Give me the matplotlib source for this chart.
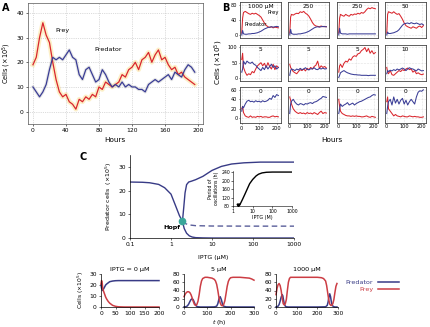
import numpy as np
import matplotlib
matplotlib.use("Agg")
import matplotlib.pyplot as plt
from matplotlib.lines import Line2D

plt.rcParams['font.family'] = ['DejaVu Sans']

RED = '#d9262d'
BLUE = '#3a3d96'
RED2 = '#cc3d44'
BLUE2 = '#383b86'

# ---- Panel A: time series (hours)
hours_a = list(range(0, 200, 4))
prey_a = [19, 22, 30, 36, 31, 28, 20, 13, 8, 6,
          7, 4, 3, 1, 5, 4, 6, 5, 7, 6,
          10, 9, 12, 11, 10, 11, 12, 15, 14, 17,
          18, 20, 17, 21, 22, 24, 20, 23, 25, 21,
          22, 19, 17, 18, 15, 16, 14, 13, 12, 11]
pred_a = [10, 8, 6, 8, 11, 17, 22, 21, 22, 21,
          23, 25, 22, 21, 15, 13, 17, 18, 15, 12,
          13, 17, 15, 12, 10, 11, 10, 12, 10, 11,
          10, 10, 9, 9, 8, 11, 12, 13, 12, 13,
          14, 15, 13, 16, 15, 14, 17, 19, 18, 16]

# ---- Panel B: 12 chemostat runs
hours_b = [0, 5, 10, 20, 30, 40, 50, 60, 70, 80, 90, 100, 110, 120,
           130, 140, 150, 160, 170, 180, 190, 200, 210]
titles_b = ['1000 \u03bcM', '250', '250', '50',
            '5', '5', '5', '10',
            '0', '0', '0', '0']
prey_b = [
    [5, 45, 60, 63, 60, 57, 55, 58, 56, 58, 55, 52, 48, 40, 32, 26, 22, 20, 22, 19, 21, 20, 19],
    [5, 48, 55, 53, 56, 58, 57, 62, 60, 63, 58, 55, 50, 42, 33, 27, 24, 23, 22, 24, 22, 23, 22],
    [5, 45, 55, 52, 50, 55, 52, 50, 55, 53, 56, 55, 58, 56, 60, 58, 62, 68, 72, 70, 73, 71, 70],
    [5, 55, 62, 60, 58, 62, 58, 55, 57, 50, 42, 32, 25, 22, 20, 18, 22, 20, 18, 22, 24, 20, 25],
    [60, 80, 35, 20, 10, 15, 12, 22, 18, 30, 40, 45, 50, 40, 48, 35, 50, 38, 30, 45, 28, 40, 35],
    [45, 35, 30, 22, 18, 15, 22, 28, 25, 30, 24, 32, 28, 35, 30, 38, 42, 55, 32, 40, 35, 38, 33],
    [20, 40, 45, 35, 48, 55, 52, 62, 58, 68, 72, 70, 78, 80, 88, 92, 98, 85, 95, 80, 88, 78, 82],
    [35, 20, 15, 25, 12, 10, 15, 20, 25, 22, 28, 25, 30, 33, 28, 30, 20, 25, 15, 18, 14, 12, 14],
    [20, 25, 12, 5, 3, 2, 5, 2, 3, 2, 4, 3, 4, 2, 3, 3, 2, 2, 4, 5, 3, 4, 3],
    [45, 38, 30, 20, 15, 12, 10, 12, 10, 11, 9, 12, 10, 11, 9, 12, 10, 8, 12, 15, 10, 12, 11],
    [40, 25, 15, 10, 8, 6, 5, 5, 4, 5, 4, 5, 4, 4, 3, 3, 4, 5, 3, 2, 4, 3, 2],
    [35, 45, 20, 15, 10, 5, 8, 5, 4, 3, 5, 4, 3, 3, 5, 4, 3, 4, 3, 3, 2, 2, 3],
]
pred_b = [
    [0, 12, 3, 2, 2, 3, 3, 4, 4, 5, 6, 8, 10, 13, 16, 18, 20, 21, 22, 21, 22, 23, 22],
    [0, 15, 4, 2, 2, 2, 3, 3, 4, 5, 6, 8, 10, 13, 16, 19, 21, 22, 21, 22, 23, 22, 22],
    [0, 18, 5, 3, 3, 3, 2, 3, 3, 3, 3, 3, 3, 3, 3, 3, 3, 3, 3, 3, 3, 3, 3],
    [0, 8, 4, 4, 5, 6, 8, 10, 14, 20, 26, 30, 31, 32, 30, 33, 31, 30, 32, 30, 28, 30, 27],
    [20, 30, 55, 45, 55, 50, 48, 52, 45, 42, 35, 30, 25, 35, 28, 40, 30, 38, 45, 35, 40, 30, 35],
    [10, 25, 30, 28, 25, 30, 27, 32, 28, 30, 34, 29, 27, 31, 30, 34, 29, 28, 32, 30, 33, 30, 31],
    [3, 10, 18, 22, 25, 21, 18, 16, 14, 13, 12, 12, 11, 11, 10, 10, 10, 10, 9, 10, 10, 10, 10],
    [15, 25, 22, 26, 24, 28, 25, 30, 27, 30, 33, 30, 25, 30, 34, 31, 30, 27, 24, 30, 27, 24, 25],
    [15, 25, 22, 30, 36, 38, 35, 36, 34, 37, 35, 36, 34, 37, 35, 36, 38, 42, 40, 48, 44, 50, 48],
    [10, 30, 36, 40, 34, 30, 28, 31, 30, 28, 31, 30, 32, 33, 31, 34, 35, 37, 40, 42, 46, 45, 44],
    [10, 20, 30, 25, 28, 30, 33, 28, 30, 32, 28, 31, 33, 35, 36, 38, 40, 42, 44, 45, 48, 50, 49],
    [10, 25, 35, 40, 28, 45, 32, 40, 30, 38, 42, 30, 38, 28, 35, 40, 35, 30, 45, 55, 58, 57, 60],
]
row_ylims = [(-8, 88), (-8, 106), (-10, 66)]
row_yticks = [[0, 40, 80], [0, 50, 100], [0, 20, 40, 60]]

# ---- Panel C: bifurcation diagram
iptg_ss = [0.1, 0.2, 0.3, 0.5, 0.7, 1.0, 1.3, 1.6, 1.9]
pred_ss = [23.6, 23.5, 23.3, 22.6, 21.2, 18.5, 13.5, 9.5, 7.0]
iptg_max = [1.9, 2.05, 2.2, 2.4, 2.7, 3.2, 4, 6, 10, 17, 30, 60, 150, 1000]
pred_max = [7.0, 13, 19, 22.5, 23.6, 24.0, 24.6, 26.0, 28.5, 30.2, 31.2, 31.7, 32.0, 32.0]
iptg_min = [1.9, 2.1, 2.4, 2.8, 3.3, 4, 6, 10, 1000]
pred_min = [7.0, 4.0, 2.0, 0.9, 0.4, 0.15, 0.05, 0.0, 0.0]
iptg_uns = [1.9, 2.3, 2.8, 4, 10, 100, 1000]
pred_uns = [7.0, 6.0, 5.5, 5.2, 5.05, 5.0, 5.0]
hopf_x, hopf_y = 1.9, 7.0

iptg_per = [1.9, 2.0, 2.2, 2.5, 3, 4, 5, 7, 10, 15, 20, 30, 50, 100, 300, 1000]
period = [82, 82, 85, 95, 110, 135, 155, 185, 205, 222, 230, 236, 239, 240, 240, 240]

# ---- Panel C bottom: simulations
t0_pred = [0, 2, 5, 8, 12, 16, 20, 25, 30, 40, 50, 60, 80, 100, 150, 200]
y0_pred = [20, 17, 15, 16, 18, 20, 21, 22, 23, 23.6, 23.9, 24, 24, 24, 24, 24]
t0_prey = [0, 2, 4, 6, 8, 12, 16, 20, 25, 30, 40, 50, 60, 80, 200]
y0_prey = [21, 24, 22, 17, 15, 12, 9, 7, 5, 3.5, 1.5, 0.6, 0.2, 0, 0]

t5_prey = [0, 5, 10, 15, 20, 25, 30, 35, 40, 45, 50, 55, 60, 65, 70, 75, 80, 90, 100, 110,
           120, 130, 135, 140, 145, 150, 155, 160, 165, 170, 175, 180, 185, 190, 195, 200,
           210, 220, 240, 260, 280, 290, 300]
y5_prey = [25, 31, 35, 37, 37, 35, 30, 22, 13, 6, 4, 6, 14, 30, 50, 63, 69, 72, 72, 71,
           70, 67, 63, 55, 40, 22, 10, 4, 3, 6, 15, 32, 50, 62, 68, 71,
           72, 72, 72, 71, 70, 68, 65]
t5_pred = [0, 10, 15, 20, 25, 30, 35, 40, 45, 50, 55, 60, 70, 100, 130, 140, 145, 150, 155,
           160, 165, 170, 180, 200, 300]
y5_pred = [0, 1, 3, 7, 13, 18, 20, 17, 10, 4, 1.5, 0.5, 0, 0, 0.3, 2, 8, 20, 25,
           18, 7, 2, 0.3, 0, 0]

t1000_prey = [0, 5, 10, 15, 20, 25, 30, 35, 40, 45, 50, 55, 60, 65, 70, 80, 100, 150, 200,
              220, 230, 240, 245, 250, 255, 260, 265, 270, 275, 280, 285, 290, 295]
y1000_prey = [30, 45, 54, 57, 52, 40, 22, 8, 5, 8, 18, 40, 60, 69, 72, 72, 72, 72, 72,
              71, 69, 63, 52, 35, 18, 7, 4, 4, 8, 18, 35, 50, 57]
t1000_pred = [0, 10, 15, 20, 25, 30, 33, 36, 40, 45, 50, 60, 100, 200, 240, 248, 252, 256,
              260, 264, 268, 272, 278, 285, 295]
y1000_pred = [0, 2, 6, 14, 24, 30, 27, 18, 8, 2, 0.5, 0, 0, 0, 0.5, 4, 12, 24,
              32, 25, 12, 4, 1, 0, 0]

W, H = 430, 327
fig = plt.figure(figsize=(4.3, 3.27), dpi=100)


def px_axes(left, top, right, bottom):
    return fig.add_axes([left / W, 1 - bottom / H, (right - left) / W, (bottom - top) / H])


TICK = 4.3

# ===== A
ax = px_axes(28, 3, 203, 124)
ax.plot(hours_a, prey_a, color='#fbe39a', lw=3.4, alpha=0.55, zorder=1)
ax.plot(hours_a, pred_a, color='#b8b8b8', lw=2.4, alpha=0.35, zorder=1)
ax.plot(hours_a, prey_a, color=RED, lw=0.9, zorder=3)
ax.plot(hours_a, pred_a, color=BLUE, lw=0.9, zorder=3)
ax.set_xlim(-6, 206)
ax.set_ylim(-5, 44)
ax.set_xticks([0, 40, 80, 120, 160, 200])
ax.set_yticks([0, 10, 20, 30, 40])
ax.grid(True, ls=':', lw=0.5, color='#bbbbbb')
ax.tick_params(labelsize=TICK, length=1.5, width=0.4, pad=1.5)
for s in ax.spines.values():
    s.set_linewidth(0.5)
    s.set_color('#555555')
ax.set_ylabel('Cells (\u00d710$^5$)', fontsize=4.8, labelpad=2)
ax.text(27, 33, 'Prey', fontsize=4.6, ha='left', va='center')
ax.text(74, 25, 'Predator', fontsize=4.6, ha='left', va='center')
fig.text(115 / W, 1 - 140 / H, 'Hours', fontsize=5.2, ha='center', va='center')
fig.text(2 / W, 1 - 8 / H, 'A', fontsize=7, fontweight='bold', ha='left', va='center')

# ===== B
col_left = [240, 288, 337, 385]
row_top = [2, 45, 87]
for i in range(12):
    r, c = divmod(i, 4)
    axb = px_axes(col_left[c], row_top[r], col_left[c] + 41, row_top[r] + 36)
    axb.plot(hours_b, prey_b[i], color=RED, lw=0.75)
    axb.plot(hours_b, pred_b[i], color=BLUE, lw=0.75)
    axb.set_xlim(-10, 225)
    axb.set_ylim(*row_ylims[r])
    axb.set_xticks([0, 100, 200])
    axb.set_yticks(row_yticks[r])
    axb.grid(True, ls=':', lw=0.4, color='#c8c8c8')
    axb.tick_params(labelsize=3.6, length=1.0, width=0.4, pad=0.8)
    if c != 0:
        axb.tick_params(labelleft=False, length=0)
    if r != 2:
        axb.tick_params(labelbottom=False, axis='x', length=0)
    for s in axb.spines.values():
        s.set_linewidth(0.6)
        s.set_color('#444444')
    axb.text(0.5, 0.94, titles_b[i], transform=axb.transAxes, fontsize=4.2,
             ha='center', va='top')
    if i == 0:
        axb.text(0.95, 0.72, 'Prey', transform=axb.transAxes, fontsize=3.8,
                 ha='right', va='center')
        axb.text(0.12, 0.38, 'Predator', transform=axb.transAxes, fontsize=3.8,
                 ha='left', va='center')
fig.text(219 / W, 1 - 62 / H, 'Cells (\u00d710$^5$)', fontsize=5.2, rotation=90,
         ha='center', va='center')
fig.text(332 / W, 1 - 140 / H, 'Hours', fontsize=5.2, ha='center', va='center')
fig.text(222 / W, 1 - 8 / H, 'B', fontsize=7, fontweight='bold', ha='left', va='center')

# ===== C main
axc = px_axes(130, 155, 294, 238)
axc.plot(iptg_ss, pred_ss, color=BLUE2, lw=1.0)
axc.plot(iptg_max, pred_max, color=BLUE2, lw=1.0)
axc.plot(iptg_min, pred_min, color=BLUE2, lw=1.0)
axc.plot(iptg_uns, pred_uns, color='#5a5e9a', lw=1.0, ls=(0, (4, 2.5)))
axc.plot([hopf_x], [hopf_y], 'o', color='#3aa79a', ms=4.5, zorder=5)
axc.text(1.05, 4.3, 'Hopf', fontsize=4.6, fontweight='bold', ha='center', va='center')
axc.set_xscale('log')
axc.set_xlim(0.1, 1000)
axc.set_ylim(0, 35)
axc.set_xticks([0.1, 1, 10, 100, 1000])
axc.set_xticklabels(['0.1', '1', '10', '100', '1000'])
axc.minorticks_off()
axc.set_yticks([0, 10, 20, 30])
axc.spines['top'].set_visible(False)
axc.spines['right'].set_visible(False)
for s in ['left', 'bottom']:
    axc.spines[s].set_linewidth(0.5)
axc.tick_params(labelsize=TICK, length=1.5, width=0.4, pad=1.5)
axc.set_ylabel('Predator cells  (\u00d710$^5$)', fontsize=4.5, labelpad=3)
fig.text(213 / W, 1 - 258 / H, 'IPTG (\u03bcM)', fontsize=4.5, ha='center', va='center')
fig.text(83 / W, 1 - 157 / H, 'C', fontsize=7, fontweight='bold', ha='center', va='center')

# inset: period
axi = px_axes(233, 171, 292, 206)
axi.plot(iptg_per, period, color='black', lw=1.0)
axi.plot([iptg_per[0]], [period[0] + 3], marker='v', color='black', ms=2)
axi.set_xscale('log')
axi.set_xlim(1, 1000)
axi.set_ylim(80, 245)
axi.set_xticks([1, 10, 100, 1000])
axi.set_xticklabels(['1', '10', '100', '1000'])
axi.minorticks_off()
axi.set_yticks([80, 120, 160, 200, 240])
axi.spines['top'].set_visible(False)
axi.spines['right'].set_visible(False)
for s in ['left', 'bottom']:
    axi.spines[s].set_linewidth(0.4)
axi.tick_params(labelsize=3.3, length=1.2, width=0.4, pad=1)
axi.set_xlabel('IPTG (M)', fontsize=3.5, labelpad=1)
axi.set_ylabel('Period of\noscillations (h)', fontsize=3.3, labelpad=1.5)

# ===== C bottom simulations
sims = [
    (101, 159, (0, 200), [0, 50, 100, 150, 200], (0, 30), [0, 10, 20, 30],
     'IPTG = 0 \u03bcM', t0_pred, y0_pred, t0_prey, y0_prey),
    (184, 254, (0, 300), [0, 100, 200, 300], (0, 80), [0, 20, 40, 60, 80],
     '5 \u03bcM', t5_pred, y5_pred, t5_prey, y5_prey),
    (276, 338, (0, 300), [0, 100, 200, 300], (0, 80), [0, 20, 40, 60, 80],
     '1000 \u03bcM', t1000_pred, y1000_pred, t1000_prey, y1000_prey),
]
for j, (l, r, xl, xt, yl, yt, ttl, tp, yp, tq, yq) in enumerate(sims):
    axs = px_axes(l, 274, r, 307)
    axs.plot(tp, yp, color=BLUE2, lw=1.1, clip_on=False)
    axs.plot(tq, yq, color=RED2, lw=1.1, clip_on=False)
    axs.set_xlim(*xl)
    axs.set_ylim(*yl)
    axs.set_xticks(xt)
    axs.set_yticks(yt)
    axs.spines['top'].set_visible(False)
    axs.spines['right'].set_visible(False)
    for s in ['left', 'bottom']:
        axs.spines[s].set_linewidth(0.5)
    axs.tick_params(labelsize=TICK, length=1.5, width=0.4, pad=1.5)
    axs.set_title(ttl, fontsize=4.6, pad=2)
    if j == 0:
        axs.set_ylabel('Cells (\u00d710$^5$)', fontsize=4.3, labelpad=2)
    if j == 1:
        axs.set_xlabel('$t$ (h)', fontsize=4.5, labelpad=1)

handles = [Line2D([], [], color=BLUE2, lw=1.1), Line2D([], [], color=RED2, lw=1.1)]
leg = fig.legend(handles, ['Predator', 'Prey'], loc='center', bbox_to_anchor=(372 / W, 1 - 286 / H),
                 frameon=False, markerfirst=False, fontsize=4.6, handlelength=3.2,
                 labelspacing=0.2, handletextpad=0.8)
for txt, col in zip(leg.get_texts(), [BLUE2, RED2]):
    txt.set_color(col)

fig.savefig('out.png', dpi=100)
